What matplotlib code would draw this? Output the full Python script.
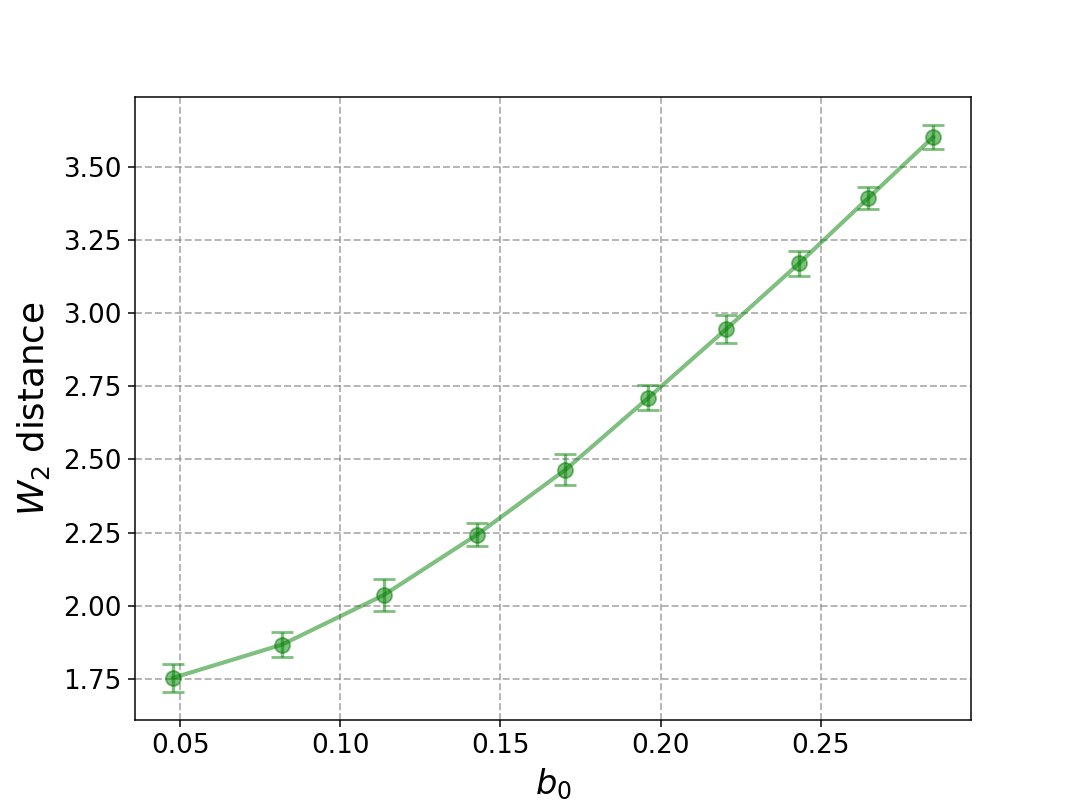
import matplotlib
matplotlib.use("Agg")
import matplotlib.pyplot as plt
import numpy as np

b0 = [0.0477, 0.0818, 0.1135, 0.1427, 0.1703, 0.1962, 0.2204, 0.2432, 0.2649, 0.2851]
w2 = [1.753, 1.867, 2.036, 2.243, 2.465, 2.711, 2.945, 3.170, 3.394, 3.602]
w2_err = [0.047, 0.042, 0.055, 0.040, 0.054, 0.043, 0.048, 0.043, 0.037, 0.040]

fig = plt.figure(figsize=(1079/135, 809/135), dpi=135)
ax = fig.add_subplot(111)
ax.errorbar(b0, w2, yerr=w2_err, fmt='-o', color='green', alpha=0.5,
            capsize=6, linewidth=2.2, markersize=8, elinewidth=1.8, capthick=1.5)
ax.grid(True, linestyle='--', color='gray', alpha=0.6, linewidth=1)
ax.set_xlabel(r'$b_0$', fontsize=18)
ax.set_ylabel(r'$W_2$ distance', fontsize=19, labelpad=6)
ax.tick_params(labelsize=14)
fig.savefig('out.png', dpi=135)
